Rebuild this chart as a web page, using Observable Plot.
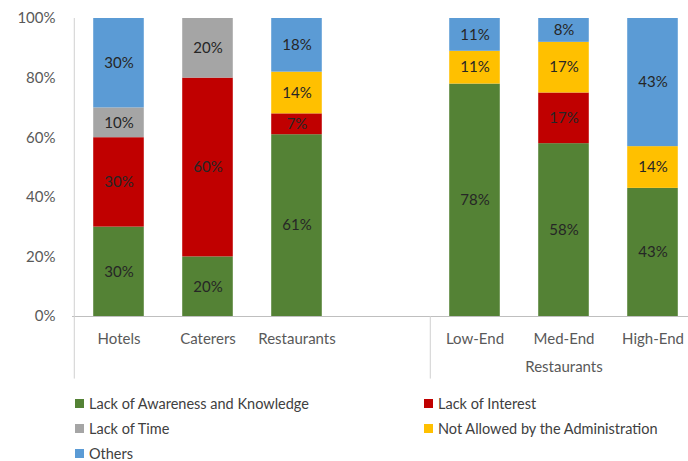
<!DOCTYPE html>
<html>
<head>
<meta charset="utf-8">
<script src="https://cdn.jsdelivr.net/npm/d3@7"></script>
<script src="https://cdn.jsdelivr.net/npm/@observablehq/plot@0.6"></script>
<style>
  html, body { margin: 0; padding: 0; background: #fff; overflow: hidden; width: 688px; height: 461px; }
  #chart { width: 688px; height: 385px; overflow: hidden; }
  #chart svg { display: block; max-width: none !important; }
  #legend { position: relative; height: 76px; font-family: Lato, "Open Sans", sans-serif; font-size: 14.5px; color: #404040; }
  .item { position: absolute; display: flex; align-items: center; height: 25px; }
  .sw { width: 9px; height: 9px; margin-right: 5px; }
</style>
</head>
<body>
<div id="chart"></div>
<div id="legend"></div>
<script>
const categories = ["Hotels", "Caterers", "Restaurants", "Low-End", "Med-End", "High-End"];
const slots = ["Hotels", "Caterers", "Restaurants", " ", "Low-End", "Med-End", "High-End"];
const causes = ["Lack of Awareness and Knowledge", "Lack of Interest", "Lack of Time", "Not Allowed by the Administration", "Others"];
const colors = ["#548235", "#C00000", "#A5A5A5", "#FFC000", "#5B9BD5"];

const awareness  = [30, 20, 61, 78, 58, 43];
const interest   = [30, 60,  7,  0, 17,  0];
const lackTime   = [10, 20,  0,  0,  0,  0];
const notAllowed = [ 0,  0, 14, 11, 17, 14];
const others     = [30,  0, 18, 11,  8, 43];

const yTicks = [0, 20, 40, 60, 80, 100];
const groupLabel = ["Restaurants"];
const groupUnder = "Med-End";
const boundaries = ["Hotels", "Low-End"];

const series = [awareness, interest, lackTime, notAllowed, others];
const rows = [];
causes.forEach((cause, i) => {
  categories.forEach((cat, j) => {
    const v = series[i][j];
    if (v > 0) rows.push({category: cat, cause, value: v});
  });
});

const W = 698, H = 385, ML = 72, MR = 0, MT = 18, MB = 69;
const step = (W - ML - MR) / slots.length;
const barW = 51;
const inset = (step - barW) / 2;
const font = "Lato, 'Open Sans', sans-serif";

const chart = Plot.plot({
  width: W, height: H,
  marginLeft: ML, marginRight: MR, marginTop: MT, marginBottom: MB,
  style: {fontFamily: font, fontSize: "15px", color: "#595959", background: "#fff", maxWidth: "none"},
  x: {domain: slots, padding: 0, axis: null},
  y: {domain: [0, 100], axis: null},
  color: {domain: causes, range: colors},
  marks: [
    Plot.barY(rows, Plot.stackY({x: "category", y: "value", fill: "cause", insetLeft: inset, insetRight: inset})),
    Plot.text(rows, Plot.stackY({x: "category", y: "value", z: "cause", text: d => d.value + "%", fill: "#262626", fontSize: 15})),
    Plot.ruleY([0], {stroke: "#BFBFBF", strokeWidth: 1}),
    Plot.ruleX(boundaries, {x: d => d, dx: -step / 2, y1: (d, i) => i === 0 ? 100 : 0, y2: -21, stroke: "#D0D0D0", strokeWidth: 1}),
    Plot.axisY({ticks: yTicks, tickFormat: d => d + "%", tickSize: 0, tickPadding: 17, fontSize: 15, fill: "#595959", label: null}),
    Plot.axisX({tickSize: 0, tickPadding: 17, fontSize: 15, fill: "#595959", tickFormat: d => d.trim(), label: null}),
    Plot.text(groupLabel, {x: () => groupUnder, frameAnchor: "bottom", dy: 55, text: d => d, fontSize: 15, fill: "#595959"})
  ]
});
chart.style.maxWidth = "none";
document.getElementById("chart").appendChild(chart);

const legend = document.getElementById("legend");
const pos = [[75, 6], [424, 6], [75, 31], [424, 31], [75, 56]];
causes.forEach((c, i) => {
  const el = document.createElement("div");
  el.className = "item";
  el.style.left = pos[i][0] + "px";
  el.style.top = pos[i][1] + "px";
  el.innerHTML = `<span class="sw" style="background:${colors[i]}"></span><span>${c}</span>`;
  legend.appendChild(el);
});
</script>
</body>
</html>
